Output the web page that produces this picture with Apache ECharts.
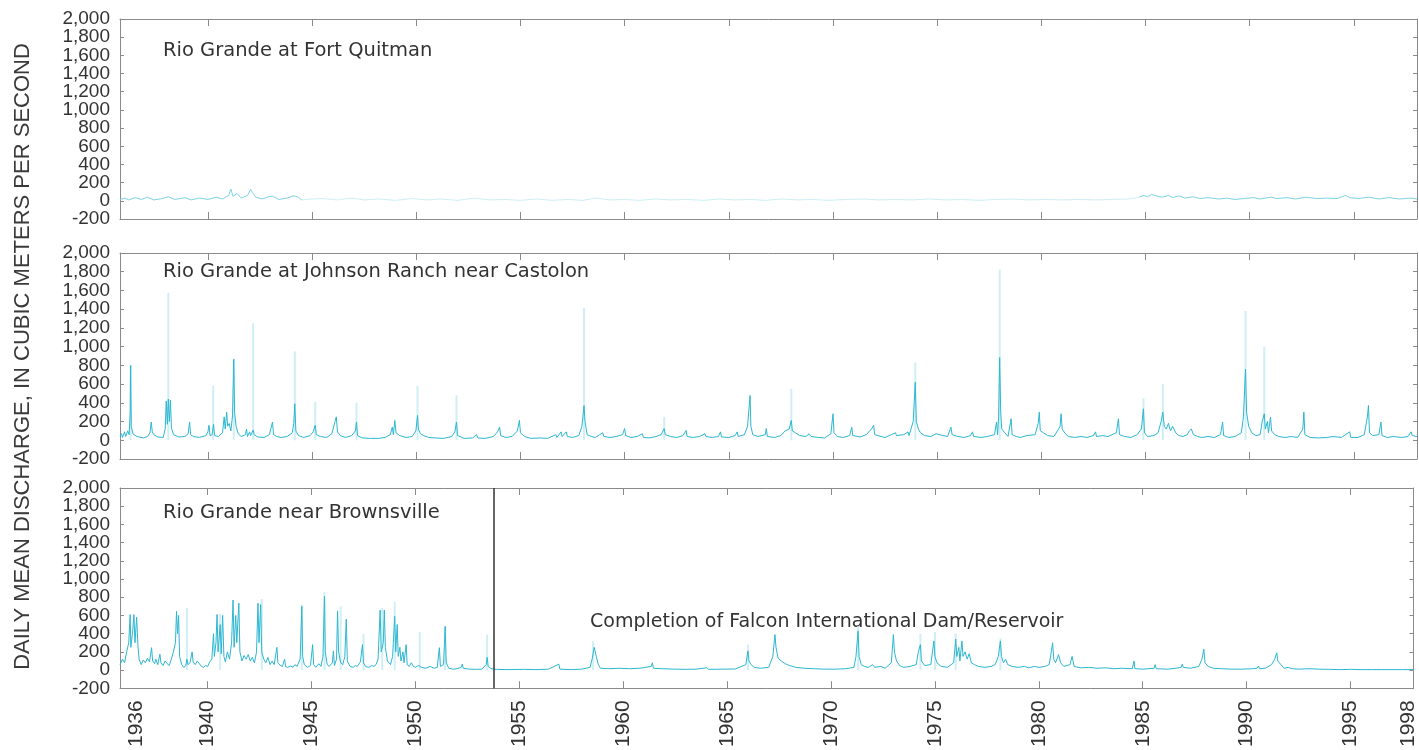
<!DOCTYPE html>
<html>
<head>
<meta charset="utf-8">
<script src="https://cdn.jsdelivr.net/npm/echarts@6/dist/echarts.min.js"></script>
<style>
html,body{margin:0;padding:0;background:#fff;}
#chart{width:1419px;height:750px;}
</style>
</head>
<body>
<div id="chart"></div>
<script>
// ---------------- DATA ----------------
var panelTitles = ['Rio Grande at Fort Quitman', 'Rio Grande at Johnson Ranch near Castolon', 'Rio Grande near Brownsville'];
var yAxisTitle = 'DAILY MEAN DISCHARGE, IN CUBIC METERS PER SECOND';
var damNote = 'Completion of Falcon International Dam/Reservoir';
var damYear = 1953.75;
var yTickValues = [-200, 0, 200, 400, 600, 800, 1000, 1200, 1400, 1600, 1800, 2000];
var xTickYears = [1940, 1945, 1950, 1955, 1960, 1965, 1970, 1975, 1980, 1985, 1990, 1995];
var xLabelYears = [1936.56, 1940, 1945, 1950, 1955, 1960, 1965, 1970, 1975, 1980, 1985, 1990, 1995, 1997.79];
var xLabelTexts = ['1936', '1940', '1945', '1950', '1955', '1960', '1965', '1970', '1975', '1980', '1985', '1990', '1995', '1998'];
var yearStart = 1935.78, yearEnd = 1998.03;

// Rio Grande at Fort Quitman [year, m3/s]
var quitmanEarly = [[1935.78,15],[1936.0,30],[1936.2,10],[1936.5,35],[1936.8,15],[1937.1,40],[1937.4,10],[1937.8,25],[1938.1,45],[1938.4,15],[1938.9,35],[1939.2,10],[1939.6,30],[1940.0,15],[1940.4,40],[1940.7,20],[1941.0,60],[1941.1,130],[1941.2,50],[1941.4,80],[1941.6,30],[1941.9,60],[1942.05,125],[1942.15,90],[1942.3,40],[1942.6,20],[1942.9,45],[1943.1,50],[1943.4,15],[1943.8,30],[1944.1,55],[1944.3,45],[1944.5,10]];
var quitmanMiddle = [[1944.5,10],[1945.0,20],[1945.5,25],[1946.2,10],[1946.9,30],[1947.5,10],[1948.2,20],[1949.0,5],[1949.8,25],[1950.5,10],[1951.2,20],[1952.0,5],[1952.8,30],[1953.5,10],[1954.2,15],[1955.0,5],[1955.8,20],[1956.5,5],[1957.3,15],[1958.0,5],[1958.6,30],[1959.3,10],[1960.0,15],[1960.7,5],[1961.5,20],[1962.2,10],[1963.0,15],[1963.8,5],[1964.5,20],[1965.3,10],[1966.0,15],[1966.8,5],[1967.5,20],[1968.3,10],[1969.0,15],[1969.8,5],[1970.6,15],[1971.4,20],[1972.2,10],[1973.0,15],[1973.8,10],[1974.6,20],[1975.4,10],[1976.2,15],[1977.0,5],[1977.8,15],[1978.6,20],[1979.4,10],[1980.2,15],[1981.0,10],[1981.8,15],[1982.6,10],[1983.4,15],[1984.2,20],[1984.7,40]];
var quitmanLate = [[1984.7,40],[1984.9,60],[1985.1,45],[1985.3,70],[1985.5,55],[1985.8,40],[1986.1,60],[1986.3,35],[1986.6,55],[1986.9,30],[1987.3,45],[1987.6,25],[1988.0,35],[1988.5,20],[1988.9,30],[1989.3,15],[1989.7,25],[1990.2,35],[1990.5,20],[1991.0,40],[1991.3,25],[1991.8,35],[1992.2,20],[1992.7,40],[1993.2,25],[1993.7,30],[1994.2,25],[1994.6,60],[1994.8,35],[1995.2,25],[1995.7,40],[1996.2,20],[1996.7,35],[1997.2,20],[1997.7,30],[1998.03,20]];

// Rio Grande at Johnson Ranch near Castolon [year, m3/s]
var johnsonDaily = [[1935.78,40],[1935.85,70],[1935.9,30],[1936.0,90],[1936.05,40],[1936.15,100],[1936.22,60],[1936.27,300],[1936.29,800],[1936.32,150],[1936.4,70],[1936.6,40],[1936.9,25],[1937.1,40],[1937.22,80],[1937.28,195],[1937.33,90],[1937.4,60],[1937.6,35],[1937.85,30],[1937.95,120],[1938.0,420],[1938.05,170],[1938.1,440],[1938.15,200],[1938.2,430],[1938.25,130],[1938.35,60],[1938.6,35],[1938.9,40],[1939.05,70],[1939.12,195],[1939.17,60],[1939.3,40],[1939.6,30],[1939.9,50],[1940.0,90],[1940.05,160],[1940.1,50],[1940.2,60],[1940.27,170],[1940.32,50],[1940.5,40],[1940.7,80],[1940.78,250],[1940.83,120],[1940.9,300],[1940.95,150],[1941.02,180],[1941.1,100],[1941.18,260],[1941.24,865],[1941.28,300],[1941.35,150],[1941.45,70],[1941.6,40],[1941.8,60],[1941.85,120],[1941.9,40],[1942.0,90],[1942.05,50],[1942.17,110],[1942.22,60],[1942.4,35],[1942.7,30],[1942.95,60],[1943.1,195],[1943.15,60],[1943.3,40],[1943.5,30],[1943.8,40],[1944.05,80],[1944.12,180],[1944.17,390],[1944.22,100],[1944.35,50],[1944.6,30],[1944.9,50],[1945.05,90],[1945.15,160],[1945.2,60],[1945.4,40],[1945.7,30],[1945.95,70],[1946.1,200],[1946.16,250],[1946.22,90],[1946.35,50],[1946.6,30],[1946.9,50],[1947.08,100],[1947.13,195],[1947.18,50],[1947.4,25],[1947.8,20],[1948.2,20],[1948.5,30],[1948.75,60],[1948.85,140],[1948.9,60],[1948.97,212],[1949.03,80],[1949.2,50],[1949.5,30],[1949.8,40],[1949.98,100],[1950.06,265],[1950.1,120],[1950.2,70],[1950.35,50],[1950.6,30],[1950.9,25],[1951.3,20],[1951.7,40],[1951.85,90],[1951.93,195],[1951.98,50],[1952.3,20],[1952.7,25],[1952.9,60],[1952.95,25],[1953.3,20],[1953.7,40],[1953.9,90],[1954.0,140],[1954.05,50],[1954.3,30],[1954.6,40],[1954.85,100],[1954.95,212],[1955.0,80],[1955.2,40],[1955.5,20],[1955.9,25],[1956.3,20],[1956.7,60],[1956.75,30],[1956.95,90],[1957.0,40],[1957.2,90],[1957.25,40],[1957.5,30],[1957.8,50],[1957.95,150],[1958.05,370],[1958.1,200],[1958.2,60],[1958.4,40],[1958.6,30],[1958.8,60],[1958.95,80],[1959.0,40],[1959.3,30],[1959.6,40],[1959.9,60],[1960.0,125],[1960.05,50],[1960.3,30],[1960.6,40],[1960.85,70],[1960.9,30],[1961.2,25],[1961.5,40],[1961.75,60],[1961.9,125],[1961.95,60],[1962.2,40],[1962.5,30],[1962.8,50],[1962.95,105],[1963.0,40],[1963.3,30],[1963.6,40],[1963.85,70],[1963.9,40],[1964.2,30],[1964.5,40],[1964.6,90],[1964.65,35],[1965.0,30],[1965.3,50],[1965.4,90],[1965.45,40],[1965.75,60],[1965.9,150],[1966.02,478],[1966.06,150],[1966.15,60],[1966.4,40],[1966.75,60],[1966.8,125],[1966.85,40],[1967.2,30],[1967.5,50],[1967.7,100],[1967.9,120],[1968.0,212],[1968.05,100],[1968.2,80],[1968.4,50],[1968.7,40],[1968.85,70],[1968.9,90],[1968.95,40],[1969.3,30],[1969.6,25],[1969.9,70],[1970.0,283],[1970.05,80],[1970.2,40],[1970.5,30],[1970.8,50],[1970.9,140],[1970.95,50],[1971.3,35],[1971.6,60],[1971.85,120],[1971.95,160],[1972.0,60],[1972.3,40],[1972.5,30],[1972.8,60],[1973.0,80],[1973.05,50],[1973.4,60],[1973.6,90],[1973.65,50],[1973.85,200],[1973.95,620],[1974.0,200],[1974.1,120],[1974.2,80],[1974.4,50],[1974.7,40],[1974.95,70],[1975.1,60],[1975.5,40],[1975.66,140],[1975.72,60],[1976.0,40],[1976.3,30],[1976.6,50],[1976.7,90],[1976.75,40],[1977.1,30],[1977.4,40],[1977.75,60],[1977.85,195],[1977.9,60],[1977.95,250],[1978.0,885],[1978.05,300],[1978.1,120],[1978.25,80],[1978.4,40],[1978.55,230],[1978.6,60],[1978.8,40],[1979.0,30],[1979.3,50],[1979.7,60],[1979.85,180],[1979.9,300],[1979.95,100],[1980.1,80],[1980.3,50],[1980.6,40],[1980.8,110],[1980.9,150],[1980.95,283],[1981.0,120],[1981.15,70],[1981.3,40],[1981.6,30],[1981.9,40],[1982.2,30],[1982.5,50],[1982.6,90],[1982.65,40],[1982.95,50],[1983.2,40],[1983.6,80],[1983.7,230],[1983.75,60],[1984.0,40],[1984.3,30],[1984.6,60],[1984.8,120],[1984.9,336],[1984.95,80],[1985.1,40],[1985.4,50],[1985.6,80],[1985.75,200],[1985.83,300],[1985.9,150],[1986.0,120],[1986.1,180],[1986.2,100],[1986.3,150],[1986.45,80],[1986.6,50],[1986.8,40],[1987.0,60],[1987.1,100],[1987.2,120],[1987.3,60],[1987.5,40],[1987.7,30],[1988.0,40],[1988.3,30],[1988.6,60],[1988.7,195],[1988.75,50],[1989.0,30],[1989.3,40],[1989.6,80],[1989.7,250],[1989.8,760],[1989.85,300],[1989.95,150],[1990.1,80],[1990.3,50],[1990.5,60],[1990.6,200],[1990.7,283],[1990.75,120],[1990.85,200],[1990.9,80],[1991.0,248],[1991.05,100],[1991.2,60],[1991.4,40],[1991.7,30],[1992.0,40],[1992.3,30],[1992.55,120],[1992.6,300],[1992.65,60],[1992.9,30],[1993.3,25],[1993.7,30],[1994.0,40],[1994.4,30],[1994.8,90],[1994.85,30],[1995.2,30],[1995.5,60],[1995.65,250],[1995.7,372],[1995.75,80],[1995.9,50],[1996.2,60],[1996.3,195],[1996.35,50],[1996.6,30],[1996.9,40],[1997.3,30],[1997.6,40],[1997.75,90],[1997.8,50],[1998.03,40]];
// short-lived flood peaks that appear as faint spikes [year, m3/s]
var johnsonPeaks = [[1936.29,800],[1938.1,1575],[1940.25,580],[1941.24,870],[1942.17,1250],[1944.17,950],[1945.15,410],[1947.13,400],[1950.06,580],[1951.93,480],[1958.05,1415],[1961.9,250],[1968.0,550],[1973.95,830],[1978.0,1823],[1984.9,450],[1985.83,600],[1989.8,1380],[1990.7,1000]];

// Rio Grande near Brownsville [year, m3/s]
var brownsvilleDaily = [[1935.78,60],[1935.9,120],[1936.0,80],[1936.1,200],[1936.2,300],[1936.27,610],[1936.3,250],[1936.38,400],[1936.45,610],[1936.5,300],[1936.58,580],[1936.65,250],[1936.7,120],[1936.8,60],[1936.9,110],[1937.0,80],[1937.1,130],[1937.2,90],[1937.3,246],[1937.35,100],[1937.45,70],[1937.5,120],[1937.6,60],[1937.7,175],[1937.75,80],[1937.85,50],[1937.95,100],[1938.05,70],[1938.15,50],[1938.25,120],[1938.35,200],[1938.45,300],[1938.5,645],[1938.55,400],[1938.6,600],[1938.65,150],[1938.75,60],[1938.85,30],[1938.95,50],[1939.0,120],[1939.05,60],[1939.15,80],[1939.25,200],[1939.3,90],[1939.4,60],[1939.5,100],[1939.6,70],[1939.7,40],[1939.8,30],[1939.9,50],[1940.0,40],[1940.1,90],[1940.2,120],[1940.28,400],[1940.32,150],[1940.4,300],[1940.45,610],[1940.5,200],[1940.6,500],[1940.65,180],[1940.72,600],[1940.78,150],[1940.85,90],[1940.95,200],[1941.05,120],[1941.15,300],[1941.22,770],[1941.27,250],[1941.35,600],[1941.4,300],[1941.5,735],[1941.55,200],[1941.65,100],[1941.75,160],[1941.85,120],[1941.95,170],[1942.05,100],[1942.15,140],[1942.25,80],[1942.35,200],[1942.42,735],[1942.47,300],[1942.55,720],[1942.6,200],[1942.7,120],[1942.8,80],[1942.9,140],[1943.0,60],[1943.1,100],[1943.2,60],[1943.33,250],[1943.38,80],[1943.5,50],[1943.6,40],[1943.7,120],[1943.75,40],[1943.85,30],[1944.0,45],[1944.1,30],[1944.2,60],[1944.3,40],[1944.45,120],[1944.53,700],[1944.57,150],[1944.65,60],[1944.8,30],[1944.95,50],[1945.05,280],[1945.1,60],[1945.2,30],[1945.35,70],[1945.45,40],[1945.55,150],[1945.62,810],[1945.66,200],[1945.75,60],[1945.85,40],[1946.0,80],[1946.05,210],[1946.1,50],[1946.2,120],[1946.25,650],[1946.3,200],[1946.4,80],[1946.5,60],[1946.6,150],[1946.67,560],[1946.72,100],[1946.85,40],[1947.0,30],[1947.1,50],[1947.2,40],[1947.35,90],[1947.45,280],[1947.5,80],[1947.6,40],[1947.75,30],[1947.9,50],[1948.0,40],[1948.1,60],[1948.2,120],[1948.3,660],[1948.35,200],[1948.45,300],[1948.5,660],[1948.55,250],[1948.65,100],[1948.8,60],[1948.9,150],[1949.0,590],[1949.05,200],[1949.12,500],[1949.17,150],[1949.25,250],[1949.3,100],[1949.4,200],[1949.45,80],[1949.55,280],[1949.6,60],[1949.7,40],[1949.8,80],[1949.9,40],[1950.0,30],[1950.15,50],[1950.3,30],[1950.5,20],[1950.7,40],[1950.9,20],[1951.05,30],[1951.15,246],[1951.2,40],[1951.35,60],[1951.43,480],[1951.48,80],[1951.6,20],[1951.8,10],[1952.0,15],[1952.2,30],[1952.25,65],[1952.3,20],[1952.6,10],[1952.9,8],[1953.2,10],[1953.4,60],[1953.45,140],[1953.5,40],[1953.6,20],[1953.75,10],[1953.9,8],[1954.5,5],[1955.2,8],[1955.8,5],[1956.4,10],[1956.9,65],[1956.95,10],[1957.5,5],[1958.0,10],[1958.4,30],[1958.5,120],[1958.6,250],[1958.7,150],[1958.8,60],[1958.9,20],[1959.3,15],[1959.8,20],[1960.3,15],[1960.8,20],[1961.35,40],[1961.4,80],[1961.45,20],[1961.9,15],[1962.5,10],[1963.0,8],[1963.5,10],[1964.0,25],[1964.1,8],[1964.8,10],[1965.4,12],[1965.9,60],[1966.0,210],[1966.05,100],[1966.15,60],[1966.3,30],[1966.6,20],[1967.0,30],[1967.2,150],[1967.3,390],[1967.35,250],[1967.45,130],[1967.6,100],[1967.8,70],[1968.0,50],[1968.3,30],[1968.7,20],[1969.2,15],[1969.7,10],[1970.2,10],[1970.7,15],[1971.1,30],[1971.2,150],[1971.3,430],[1971.35,150],[1971.45,60],[1971.6,40],[1971.8,30],[1972.0,60],[1972.1,30],[1972.4,40],[1972.6,20],[1972.9,80],[1973.0,390],[1973.05,200],[1973.15,100],[1973.3,50],[1973.5,30],[1973.8,40],[1974.1,60],[1974.2,200],[1974.3,280],[1974.35,100],[1974.5,50],[1974.8,60],[1974.95,320],[1975.0,150],[1975.1,80],[1975.3,40],[1975.6,30],[1975.9,80],[1976.0,340],[1976.05,150],[1976.15,250],[1976.2,100],[1976.3,320],[1976.35,150],[1976.45,200],[1976.55,120],[1976.65,180],[1976.75,80],[1976.9,60],[1977.1,40],[1977.4,30],[1977.7,40],[1977.9,60],[1978.05,150],[1978.15,320],[1978.2,150],[1978.3,80],[1978.4,120],[1978.5,60],[1978.7,40],[1979.0,30],[1979.3,40],[1979.5,25],[1979.8,40],[1980.0,30],[1980.3,40],[1980.5,60],[1980.6,200],[1980.66,300],[1980.72,120],[1980.8,80],[1980.95,170],[1981.05,80],[1981.2,40],[1981.5,60],[1981.6,150],[1981.7,40],[1982.0,25],[1982.4,30],[1982.8,20],[1983.2,25],[1983.6,15],[1984.0,20],[1984.5,15],[1984.58,100],[1984.62,15],[1985.0,10],[1985.55,20],[1985.6,60],[1985.65,15],[1986.2,10],[1986.6,20],[1986.85,30],[1986.9,65],[1986.95,30],[1987.3,20],[1987.7,40],[1987.85,120],[1987.94,230],[1988.0,80],[1988.15,40],[1988.4,20],[1988.8,15],[1989.3,10],[1989.8,10],[1990.3,15],[1990.5,20],[1990.57,45],[1990.62,15],[1990.9,20],[1991.2,60],[1991.35,120],[1991.45,190],[1991.5,100],[1991.65,60],[1991.8,20],[1992.0,30],[1992.2,15],[1992.5,10],[1993.0,15],[1993.5,10],[1994.0,8],[1994.5,5],[1995.0,8],[1995.5,5],[1996.0,5],[1996.5,5],[1997.0,5],[1997.5,5],[1998.03,5]];
var brownsvillePeaks = [[1939.0,680],[1940.6,620],[1942.6,780],[1944.53,720],[1945.62,860],[1946.4,700],[1947.5,400],[1948.4,680],[1949.0,750],[1950.2,420],[1951.43,480],[1953.45,390],[1958.55,320],[1966.0,280],[1971.3,480],[1974.3,400],[1975.0,420],[1976.0,400],[1978.15,350]];

// ---------------- CHART ----------------
var FRAME = '#8a8a8a', TEXT = '#333333';
var DARK = '#2db7d1', LIGHT = '#cdeff5', MID = '#7dd3e3';
var gridBoxes = [
  {left: 120, top: 19, width: 1297, height: 200},
  {left: 120, top: 253, width: 1297, height: 206},
  {left: 120, top: 488, width: 1297, height: 203}
];
var yLabelTexts = yTickValues.map(function (v) { return v.toLocaleString('en-US'); });
var xAxes = [], yAxes = [];
gridBoxes.forEach(function (g, i) {
  var last = (i === 2);
  xAxes.push({
    type: 'value', gridIndex: i, position: 'bottom', min: yearStart, max: yearEnd,
    axisLine: {show: true, onZero: false, lineStyle: {color: FRAME, width: 1}},
    axisTick: {show: true, inside: true, length: 7, lineStyle: {color: FRAME}, customValues: xTickYears},
    axisLabel: {
      show: last, rotate: 90, margin: 12, color: TEXT, fontFamily: 'Liberation Sans', fontSize: 21,
      customValues: xLabelYears, showMinLabel: true, showMaxLabel: true, hideOverlap: false,
      formatter: function (v) {
        for (var k = 0; k < xLabelYears.length; k++) if (Math.abs(xLabelYears[k] - v) < 1e-6) return xLabelTexts[k];
        return '';
      }
    },
    splitLine: {show: false}
  });
  xAxes.push({
    type: 'value', gridIndex: i, position: 'top', min: yearStart, max: yearEnd,
    axisLine: {show: true, onZero: false, lineStyle: {color: FRAME, width: 1}},
    axisTick: {show: true, inside: true, length: 7, lineStyle: {color: FRAME}, customValues: xTickYears},
    axisLabel: {show: false},
    splitLine: {show: false}
  });
  // value axis used by the data (left frame line + ticks)
  yAxes.push({
    type: 'value', gridIndex: i, position: 'left', min: -200, max: 2000, interval: 200,
    axisLine: {show: true, onZero: false, lineStyle: {color: FRAME, width: 1}},
    axisTick: {show: true, inside: true, length: 4, lineStyle: {color: FRAME}},
    axisLabel: {show: false},
    splitLine: {show: false}
  });
  // right frame line + ticks
  yAxes.push({
    type: 'value', gridIndex: i, position: 'right', min: -200, max: 2000, interval: 200,
    axisLine: {show: true, onZero: false, lineStyle: {color: FRAME, width: 1}},
    axisTick: {show: true, inside: true, length: 4, lineStyle: {color: FRAME}},
    axisLabel: {show: false},
    splitLine: {show: false}
  });
  // tick labels (every label shown)
  yAxes.push({
    type: 'category', gridIndex: i, position: 'left', boundaryGap: false, data: yLabelTexts,
    axisLine: {show: false}, axisTick: {show: false}, splitLine: {show: false},
    axisLabel: {show: true, interval: 0, margin: 10, color: TEXT, fontFamily: 'Liberation Sans', fontSize: 19}
  });
});

function lineSeries(data, gi, color, extra) {
  var s = {
    type: 'line', xAxisIndex: gi * 2, yAxisIndex: gi * 3, data: data,
    showSymbol: false, symbol: 'none', silent: true, animation: false,
    lineStyle: {color: color, width: 1}, z: 3
  };
  if (extra) for (var k in extra) s[k] = extra[k];
  return s;
}
function peakSeries(data, gi) {
  return {
    type: 'bar', xAxisIndex: gi * 2, yAxisIndex: gi * 3, data: data,
    barWidth: 2, silent: true, animation: false,
    itemStyle: {color: LIGHT}, z: 1
  };
}

var series = [
  lineSeries(quitmanMiddle, 0, LIGHT),
  lineSeries(quitmanEarly, 0, MID),
  lineSeries(quitmanLate, 0, MID),
  peakSeries(johnsonPeaks, 1),
  lineSeries(johnsonDaily, 1, DARK),
  peakSeries(brownsvillePeaks, 2),
  lineSeries(brownsvilleDaily, 2, DARK, {
    markLine: {
      silent: true, symbol: ['none', 'none'], animation: false,
      label: {show: false},
      lineStyle: {color: '#333333', width: 1.5, type: 'solid'},
      data: [{xAxis: damYear}]
    }
  })
];

var titleFont = '19.5px "DejaVu Sans"';
var graphic = [
  {type: 'text', x: 163, y: 51, style: {text: panelTitles[0], font: titleFont, fill: TEXT, align: 'left', verticalAlign: 'middle'}},
  {type: 'text', x: 163, y: 271.5, style: {text: panelTitles[1], font: titleFont, fill: TEXT, align: 'left', verticalAlign: 'middle'}},
  {type: 'text', x: 163, y: 512.5, style: {text: panelTitles[2], font: titleFont, fill: TEXT, align: 'left', verticalAlign: 'middle'}},
  {type: 'text', x: 590, y: 622.5, style: {text: damNote, font: '19px "DejaVu Sans"', fill: TEXT, align: 'left', verticalAlign: 'middle'}},
  {type: 'text', x: 23, y: 356.5, rotation: Math.PI / 2, style: {text: yAxisTitle, font: '22px "Liberation Sans"', fill: '#3a3a3a', align: 'center', verticalAlign: 'middle'}}
];

var chart = echarts.init(document.getElementById('chart'), null, {renderer: 'canvas'});
chart.setOption({
  animation: false,
  backgroundColor: '#ffffff',
  grid: gridBoxes,
  xAxis: xAxes,
  yAxis: yAxes,
  series: series,
  graphic: graphic
});
</script>
</body>
</html>
